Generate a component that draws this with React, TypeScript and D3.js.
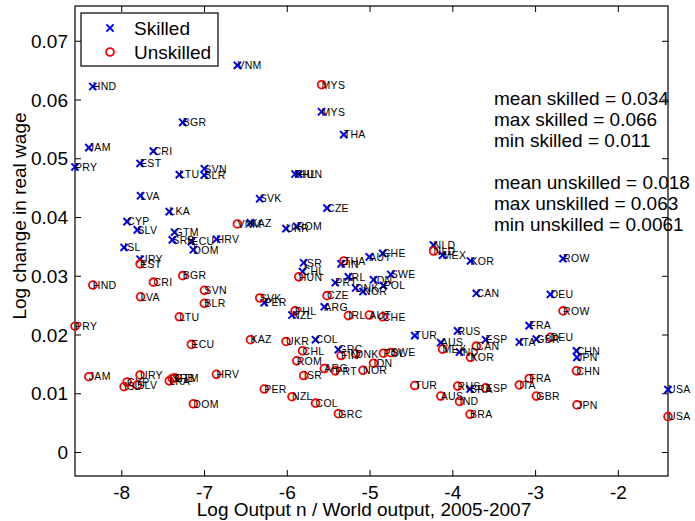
import React from "react";
import * as d3 from "d3";

// Country codes, log output share (2005-2007) and log change in real wage by skill group
const countries = [
  "PRY", "JAM", "HND", "ISL", "CYP", "SLV", "EST", "LVA", "URY", "CRI",
  "LKA", "SRB", "GTM", "LTU", "BGR", "ECU", "DOM", "SVN", "BLR", "HRV",
  "VNM", "KAZ", "SVK", "PER", "UKR", "NZL", "PHL", "ROM", "HUN", "CHL",
  "ISR", "COL", "ARG", "MYS", "CZE", "PRT", "GRC", "FIN", "THA", "IRL",
  "DNK", "NOR", "AUT", "IDN", "CHE", "POL", "SWE", "TUR", "NLD", "AUS",
  "MEX", "RUS", "IND", "BRA", "KOR", "CAN", "ESP", "ITA", "FRA", "GBR",
  "DEU", "ROW", "CHN", "JPN", "USA",
];

const logOutput = [
  -8.565, -8.398, -8.35, -7.972, -7.936, -7.812, -7.779, -7.773, -7.779, -7.618,
  -7.426, -7.389, -7.362, -7.304, -7.263, -7.159, -7.135, -7.002, -7.003, -6.856,
  -6.603, -6.445, -6.333, -6.278, -6.015, -5.943, -5.906, -5.886, -5.862, -5.816,
  -5.802, -5.659, -5.553, -5.586, -5.52, -5.421, -5.383, -5.35, -5.318, -5.262,
  -5.175, -5.085, -5.009, -4.958, -4.847, -4.839, -4.749, -4.46, -4.233, -4.146,
  -4.124, -3.942, -3.919, -3.792, -3.786, -3.716, -3.604, -3.196, -3.077, -2.991,
  -2.821, -2.668, -2.506, -2.5, -1.4,
];

const skilledChange = [
  0.0486, 0.0519, 0.0623, 0.0349, 0.0393, 0.0379, 0.0492, 0.0437, 0.0329, 0.0513,
  0.041, 0.0362, 0.0375, 0.0473, 0.0562, 0.0359, 0.0345, 0.0483, 0.0472, 0.0363,
  0.0659, 0.0391, 0.0432, 0.0255, 0.0381, 0.0234, 0.0474, 0.0385, 0.0474, 0.0308,
  0.0323, 0.0192, 0.0248, 0.058, 0.0416, 0.0289, 0.0175, 0.0321, 0.0541, 0.0299,
  0.028, 0.0274, 0.0333, 0.0294, 0.0339, 0.0284, 0.0303, 0.0199, 0.0353, 0.0187,
  0.0336, 0.0207, 0.0171, 0.0108, 0.0326, 0.0271, 0.0192, 0.0188, 0.0216, 0.0193,
  0.0269, 0.033, 0.0173, 0.0162, 0.0107,
];

const unskilledChange = [
  0.0215, 0.0129, 0.0285, 0.0112, 0.012, 0.0115, 0.0321, 0.0265, 0.0132, 0.029,
  0.0122, 0.0126, 0.0127, 0.0231, 0.0301, 0.0184, 0.0083, 0.0276, 0.0254, 0.0133,
  0.0389, 0.0192, 0.0263, 0.0108, 0.0189, 0.0095, 0.0241, 0.0156, 0.0299, 0.0173,
  0.0131, 0.0084, 0.0143, 0.0626, 0.0267, 0.0139, 0.0066, 0.0165, 0.0326, 0.0233,
  0.0168, 0.014, 0.0234, 0.0152, 0.0231, 0.0169, 0.017, 0.0114, 0.0343, 0.0096,
  0.0176, 0.0113, 0.0087, 0.0065, 0.0162, 0.0181, 0.011, 0.0115, 0.0126, 0.0096,
  0.0196, 0.0241, 0.0139, 0.0081, 0.0061,
];

const xTicks = [-8, -7, -6, -5, -4, -3, -2];
const yTicks = [0, 0.01, 0.02, 0.03, 0.04, 0.05, 0.06, 0.07];
const yDomain = [-0.004, 0.076];

const W = 695;
const H = 521;
const plot = { left: 75, right: 668, top: 6, bottom: 476 };
const FONT = "'Liberation Sans', Arial, sans-serif";
const TICK = 6;

const BLUE = "#0000ff";
const RED = "#ff0000";

function Cross({ cx, cy, r = 3.6 }: { cx: number; cy: number; r?: number }) {
  return (
    <path
      d={`M${cx - r},${cy - r}L${cx + r},${cy + r}M${cx - r},${cy + r}L${cx + r},${cy - r}`}
      stroke={BLUE}
      strokeWidth={2}
      fill="none"
    />
  );
}

function Ring({ cx, cy, r = 3.9 }: { cx: number; cy: number; r?: number }) {
  return <circle cx={cx} cy={cy} r={r} stroke={RED} strokeWidth={1.8} fill="none" />;
}

export default function App() {
  const x = d3
    .scaleLinear()
    .domain(d3.extent(logOutput) as [number, number])
    .range([plot.left, plot.right]);
  const y = d3.scaleLinear().domain(yDomain).range([plot.bottom, plot.top]);

  const fmt = d3.format(".2g");
  const statLines = [
    `mean skilled = ${fmt(d3.mean(skilledChange) as number)}`,
    `max skilled = ${fmt(d3.max(skilledChange) as number)}`,
    `min skilled = ${fmt(d3.min(skilledChange) as number)}`,
    "",
    `mean unskilled = ${fmt(d3.mean(unskilledChange) as number)}`,
    `max unskilled = ${fmt(d3.max(unskilledChange) as number)}`,
    `min unskilled = ${fmt(d3.min(unskilledChange) as number)}`,
  ];

  const labelStyle = { fontFamily: FONT, fontSize: 10.5, letterSpacing: 0.3 };

  return (
    <div style={{ position: "fixed", left: 0, top: 0, background: "#fff" }}>
      <svg width={W} height={H} viewBox={`0 0 ${W} ${H}`} style={{ display: "block" }}>
        <rect x={0} y={0} width={W} height={H} fill="#fff" />

        {/* axes box */}
        <rect
          x={plot.left}
          y={plot.top}
          width={plot.right - plot.left}
          height={plot.bottom - plot.top}
          fill="#fff"
          stroke="#000"
          strokeWidth={1.2}
        />

        {/* inward ticks on all four sides */}
        {xTicks.map((t) => (
          <g key={`xt${t}`} stroke="#000" strokeWidth={1}>
            <line x1={x(t)} x2={x(t)} y1={plot.bottom} y2={plot.bottom - TICK} />
            <line x1={x(t)} x2={x(t)} y1={plot.top} y2={plot.top + TICK} />
          </g>
        ))}
        {yTicks.map((t) => (
          <g key={`yt${t}`} stroke="#000" strokeWidth={1}>
            <line x1={plot.left} x2={plot.left + TICK} y1={y(t)} y2={y(t)} />
            <line x1={plot.right} x2={plot.right - TICK} y1={y(t)} y2={y(t)} />
          </g>
        ))}

        {/* tick labels */}
        {xTicks.map((t) => (
          <text
            key={`xl${t}`}
            x={x(t)}
            y={plot.bottom + 23}
            textAnchor="middle"
            fontFamily={FONT}
            fontSize={19}
          >
            {String(t)}
          </text>
        ))}
        {yTicks.map((t) => (
          <text
            key={`yl${t}`}
            x={plot.left - 7}
            y={y(t)}
            dy="0.35em"
            textAnchor="end"
            fontFamily={FONT}
            fontSize={19}
          >
            {String(t)}
          </text>
        ))}

        {/* axis titles */}
        <text x={364} y={516} textAnchor="middle" fontFamily={FONT} fontSize={19}>
          Log Output n / World output, 2005-2007
        </text>
        <text
          transform={`translate(26,216) rotate(-90)`}
          textAnchor="middle"
          fontFamily={FONT}
          fontSize={19}
        >
          Log change in real wage
        </text>

        {/* markers */}
        {logOutput.map((v, i) => (
          <Cross key={`s${i}`} cx={x(v)} cy={y(skilledChange[i])} />
        ))}
        {logOutput.map((v, i) => (
          <Ring key={`u${i}`} cx={x(v)} cy={y(unskilledChange[i])} />
        ))}

        {/* country labels, anchored at each point */}
        {logOutput.map((v, i) => (
          <text key={`sl${i}`} x={x(v)} y={y(skilledChange[i])} dy="0.36em" {...labelStyle}>
            {countries[i]}
          </text>
        ))}
        {logOutput.map((v, i) => (
          <text key={`ul${i}`} x={x(v)} y={y(unskilledChange[i])} dy="0.36em" {...labelStyle}>
            {countries[i]}
          </text>
        ))}

        {/* summary statistics */}
        {statLines.map((line, i) =>
          line ? (
            <text key={`st${i}`} x={494} y={105 + i * 21} fontFamily={FONT} fontSize={19}>
              {line}
            </text>
          ) : null
        )}

        {/* legend */}
        <rect x={81} y={13} width={137} height={53} fill="#fff" stroke="#000" strokeWidth={1.2} />
        <Cross cx={110} cy={28} />
        <Ring cx={110} cy={52} />
        <text x={134} y={35} fontFamily={FONT} fontSize={19}>
          Skilled
        </text>
        <text x={134} y={59} fontFamily={FONT} fontSize={19}>
          Unskilled
        </text>
      </svg>
    </div>
  );
}
